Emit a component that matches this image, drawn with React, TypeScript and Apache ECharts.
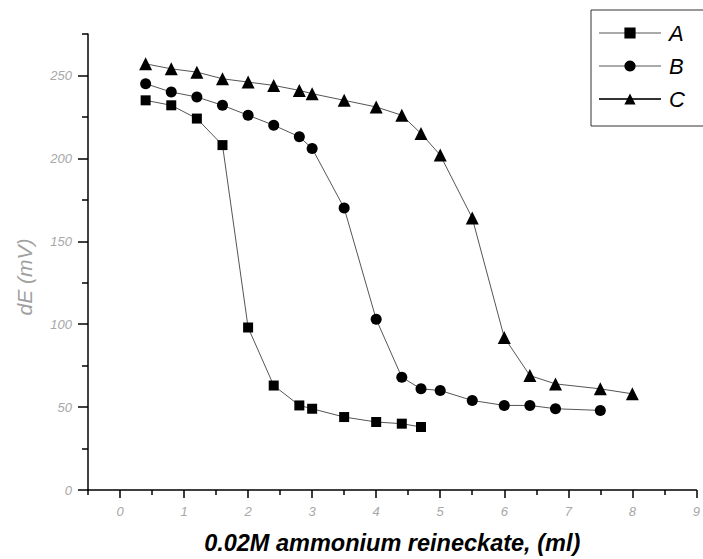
import React, { useEffect, useRef } from "react";
import * as echarts from "echarts";

const xA = [0.4, 0.8, 1.2, 1.6, 2.0, 2.4, 2.8, 3.0, 3.5, 4.0, 4.4, 4.7];
const yA = [235, 232, 224, 208, 98, 63, 51, 49, 44, 41, 40, 38];
const xB = [0.4, 0.8, 1.2, 1.6, 2.0, 2.4, 2.8, 3.0, 3.5, 4.0, 4.4, 4.7, 5.0, 5.5, 6.0, 6.4, 6.8, 7.5];
const yB = [245, 240, 237, 232, 226, 220, 213, 206, 170, 103, 68, 61, 60, 54, 51, 51, 49, 48];
const xC = [0.4, 0.8, 1.2, 1.6, 2.0, 2.4, 2.8, 3.0, 3.5, 4.0, 4.4, 4.7, 5.0, 5.5, 6.0, 6.4, 6.8, 7.5, 8.0];
const yC = [257, 254, 252, 248, 246, 244, 241, 239, 235, 231, 226, 215, 202, 164, 92, 69, 64, 61, 58];

const xMajorTicks = [0, 1, 2, 3, 4, 5, 6, 7, 8, 9];
const xMinorTicks = [-0.5, 0.5, 1.5, 2.5, 3.5, 4.5, 5.5, 6.5, 7.5, 8.5];
const yMajorTicks = [0, 50, 100, 150, 200, 250];
const yMinorTicks = [25, 75, 125, 175, 225, 275];

const FONT = "Liberation Sans";

const zip = (xs: number[], ys: number[]) => xs.map((x, i) => [x, ys[i]]);

export default function App() {
  const ref = useRef<HTMLDivElement>(null);
  useEffect(() => {
    document.body.style.margin = "0";
    const chart = echarts.init(ref.current!, null, { renderer: "svg" });
    const labelStyle = { color: "#a8a8a8", fontStyle: "italic", fontSize: 13, fontFamily: FONT };
    const mkSeries = (name: string, xs: number[], ys: number[], symbol: string, size: number) => ({
      name,
      type: "line",
      data: zip(xs, ys),
      symbol,
      symbolSize: size,
      showSymbol: true,
      itemStyle: { color: "#000" },
      lineStyle: { color: "#555", width: 1 },
      xAxisIndex: 0,
      yAxisIndex: 0,
      z: 3,
    });
    chart.setOption({
      animation: false,
      textStyle: { fontFamily: FONT },
      grid: { left: 88, right: 3, top: 34, bottom: 68 },
      legend: {
        orient: "vertical",
        left: 591,
        top: 10,
        padding: [12, 40, 16, 7],
        itemWidth: 62,
        itemHeight: 14,
        itemGap: 11,
        borderColor: "#333",
        borderWidth: 1,
        backgroundColor: "#fff",
        textStyle: { fontSize: 22, fontStyle: "italic", color: "#000", fontFamily: FONT, padding: [0, 0, 0, 3] },
        data: [
          { name: "A", lineStyle: { color: "#aaa" } },
          { name: "B", lineStyle: { color: "#aaa" } },
          { name: "C", lineStyle: { color: "#333" } },
        ],
      },
      xAxis: [
        {
          type: "value",
          min: -0.5,
          max: 9,
          position: "bottom",
          axisLine: { onZero: false, lineStyle: { color: "#000", width: 1.5 } },
          axisTick: { customValues: xMajorTicks, length: 8, lineStyle: { color: "#000", width: 1.5 } },
          axisLabel: { customValues: xMajorTicks, margin: 15, ...labelStyle },
          splitLine: { show: false },
          name: "0.02M ammonium reineckate, (ml)",
          nameLocation: "middle",
          nameGap: 41,
          nameTextStyle: { fontSize: 23.5, fontWeight: "bold", fontStyle: "italic", color: "#000", fontFamily: FONT },
        },
        {
          type: "value",
          min: -0.5,
          max: 9,
          position: "bottom",
          axisLine: { show: false, onZero: false },
          axisTick: { customValues: xMinorTicks, length: 5, lineStyle: { color: "#000", width: 1.5 } },
          axisLabel: { show: false },
          splitLine: { show: false },
        },
      ],
      yAxis: [
        {
          type: "value",
          min: 0,
          max: 275,
          position: "left",
          axisLine: { show: true, onZero: false, lineStyle: { color: "#000", width: 1.5 } },
          axisTick: { show: true, customValues: yMajorTicks, length: 10, lineStyle: { color: "#000", width: 1.5 } },
          axisLabel: { customValues: yMajorTicks, margin: 16, ...labelStyle },
          splitLine: { show: false },
        },
        {
          type: "value",
          min: 0,
          max: 275,
          position: "left",
          axisLine: { show: false, onZero: false },
          axisTick: { show: true, customValues: yMinorTicks, length: 6, lineStyle: { color: "#000", width: 1.5 } },
          axisLabel: { show: false },
          splitLine: { show: false },
        },
      ],
      graphic: [
        {
          type: "text",
          x: 24,
          y: 277,
          rotation: Math.PI / 2,
          style: {
            text: "dE (mV)",
            fontSize: 21,
            fontStyle: "italic",
            fontFamily: FONT,
            fill: "#a0a0a0",
            align: "center",
            verticalAlign: "middle",
          },
        },
      ],
      series: [
        mkSeries("A", xA, yA, "rect", 10),
        mkSeries("B", xB, yB, "circle", 11),
        mkSeries("C", xC, yC, "triangle", 13),
      ],
    });
    return () => chart.dispose();
  }, []);
  return <div ref={ref} style={{ width: 703, height: 559 }} />;
}
